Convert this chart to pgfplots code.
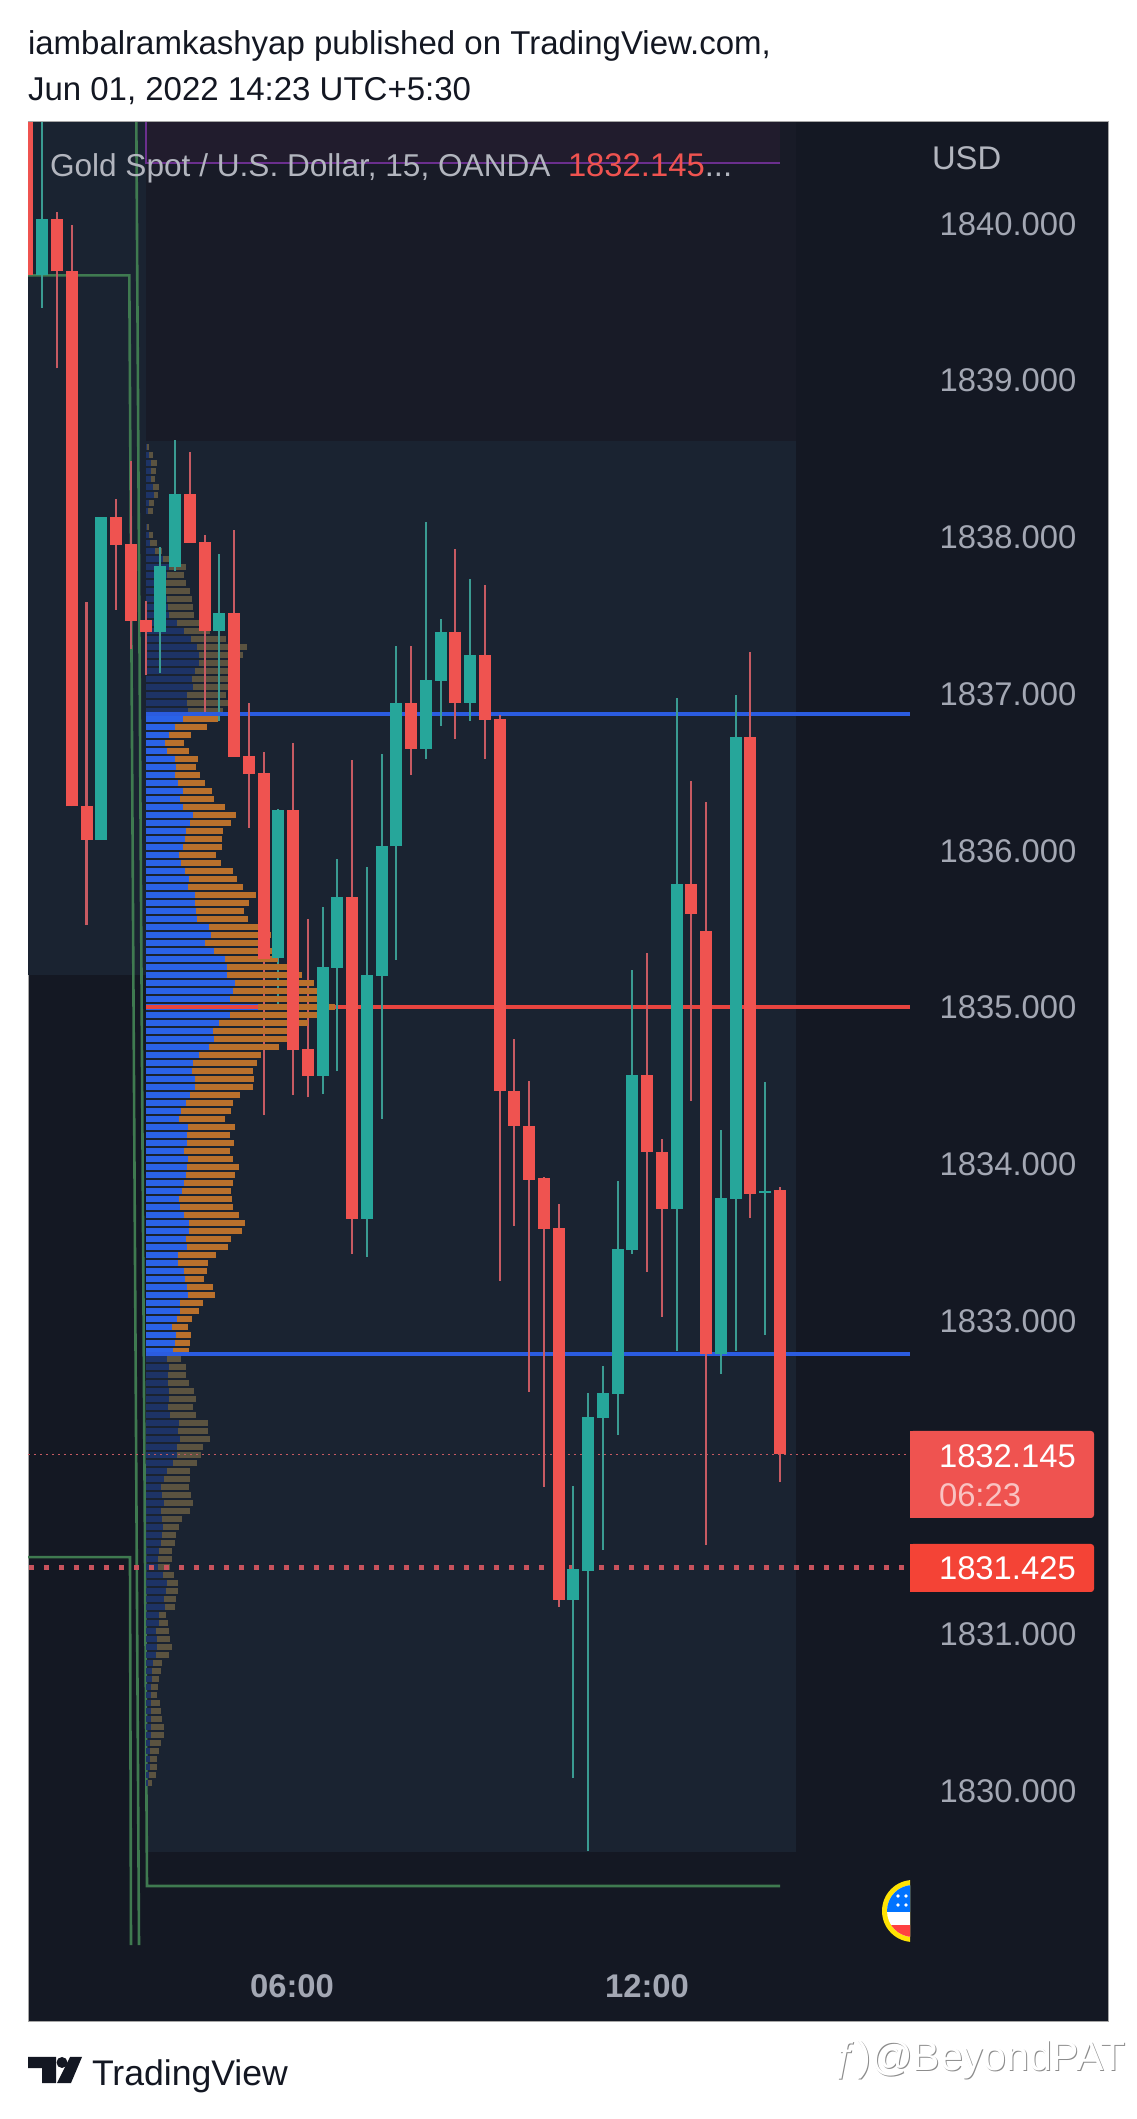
\documentclass[border=0pt]{standalone}
\usepackage{pgfplots}
\usepackage{pgfplotstable}
\usepackage{fontspec}
\pgfplotsset{compat=1.18}
\setmainfont{Liberation Sans}

\definecolor{pane}{HTML}{141823}
\definecolor{zone}{HTML}{1A2331}
\definecolor{upperzone}{HTML}{181B27}
\definecolor{purplezone}{HTML}{211C2D}
\definecolor{purpleline}{HTML}{6A2F8E}
\definecolor{greenline}{HTML}{3F7A50}
\definecolor{bull}{HTML}{26A69A}
\definecolor{bear}{HTML}{EF5350}
\definecolor{bullwick}{HTML}{3A9B92}
\definecolor{bearwick}{HTML}{C75A62}
\definecolor{vpblue}{HTML}{2A62E8}
\definecolor{vporange}{HTML}{B9702C}
\definecolor{vpdimblue}{HTML}{1D3366}
\definecolor{vpdimorange}{HTML}{5B5340}
\definecolor{levelblue}{HTML}{2B5CE0}
\definecolor{levelred}{HTML}{E8443F}
\definecolor{dotred}{HTML}{C8525C}
\definecolor{scaletext}{HTML}{A3A7B3}
\definecolor{legendtext}{HTML}{B2B5BE}
\definecolor{ink}{HTML}{131722}
\definecolor{lowtag}{HTML}{F44336}

% x is the pixel column of the bar, prices as on the right scale
\pgfplotstableread{
x high top bottom low
42 1841 1840.027 1839.668 1839.460
101 1838.126 1838.126 1836.065 1836.065
160 1837.935 1837.814 1837.394 1837.131
175 1838.620 1838.274 1837.807 1837.782
219 1837.890 1837.514 1837.399 1836.824
278 1836.260 1836.257 1835.314 1834.980
323 1835.639 1835.255 1834.559 1834.444
337 1835.946 1835.701 1835.248 1834.588
367 1835.895 1835.206 1833.648 1833.405
382 1836.614 1836.027 1835.200 1834.286
396 1837.305 1836.939 1836.024 1835.299
426 1838.094 1837.086 1836.648 1836.579
441 1837.473 1837.392 1837.080 1836.794
470 1837.732 1837.246 1836.941 1836.826
573 1831.943 1831.414 1831.216 1830.080
588 1832.539 1832.381 1831.403 1829.613
603 1832.708 1832.536 1832.377 1831.534
618 1833.886 1833.455 1832.531 1832.271
632 1835.235 1834.565 1833.449 1833.423
677 1836.974 1835.786 1833.710 1832.802
721 1834.216 1833.780 1832.785 1832.659
736 1836.990 1836.722 1833.777 1832.804
765 1834.521 1833.828 1833.812 1832.906
}\bullcandles
\pgfplotstableread{
x high top bottom low
27 1841 1841 1839.668 1839.668
57 1840.073 1840.027 1839.694 1839.074
72 1839.990 1839.694 1836.280 1836.280
86.5 1837.584 1836.282 1836.065 1835.523
116 1838.241 1838.126 1837.948 1837.533
131 1838.484 1837.954 1837.464 1837.284
146 1837.590 1837.472 1837.394 1837.118
190 1838.543 1838.274 1837.962 1837.962
205 1838.012 1837.967 1837.399 1836.844
234 1838.040 1837.514 1836.596 1836.596
249 1836.939 1836.602 1836.485 1836.142
264 1836.627 1836.493 1835.306 1834.310
293 1836.687 1836.257 1834.722 1834.438
308 1835.562 1834.731 1834.559 1834.422
352 1836.576 1835.701 1833.648 1833.426
411 1837.304 1836.939 1836.648 1836.481
455 1837.922 1837.392 1836.941 1836.711
485 1837.692 1837.246 1836.833 1836.584
500 1836.863 1836.838 1834.466 1833.251
514 1834.796 1834.466 1834.242 1833.604
529 1834.527 1834.242 1833.897 1832.542
544 1833.916 1833.905 1833.583 1831.937
559 1833.743 1833.590 1831.216 1831.172
647 1835.341 1834.565 1834.074 1833.311
662 1834.157 1834.077 1833.710 1833.021
691 1836.442 1835.786 1835.593 1834.399
706 1836.308 1835.482 1832.785 1831.566
750 1837.265 1836.722 1833.806 1833.653
780 1833.853 1833.832 1832.145 1831.968
}\bearcandles

% volume profile: price of the row, end of the up part, end of the row (in pixel columns)
\pgfplotstableread{
p blue total
1838.574 147 149
1838.522 149 153
1838.471 151 157
1838.420 151 156
1838.369 151 155
1838.318 153 159
1838.267 154 158
1838.216 149 154
1838.165 148 153
1838.063 147 149
1838.012 149 153
1837.961 150 157
1837.910 155 162
1837.859 163 170
1837.808 169 186
1837.757 167 184
1837.706 166 186
1837.655 166 190
1837.604 167 192
1837.553 168 193
1837.501 169 194
1837.450 177 199
1837.399 184 210
1837.348 191 226
1837.297 197 247
1837.246 199 243
1837.195 199 236
1837.144 195 232
1837.093 192 228
1837.042 193 228
1836.991 187 226
1836.940 187 228
1836.889 188 223
1832.754 166.7 181
1832.703 168.7 186
1832.652 168 186
1832.601 168 189
1832.550 169.3 194
1832.499 169 196
1832.448 168 193
1832.396 170 196
1832.345 179 208
1832.294 177.7 208
1832.243 180 210
1832.192 176.7 203
1832.141 176.7 201
1832.090 172.7 197
1832.039 166.7 190
1831.988 164 190
1831.937 161 189
1831.886 162 191
1831.835 164 193
1831.784 161 190
1831.733 161.7 182
1831.682 162.7 179
1831.631 161.7 176
1831.580 160.7 175
1831.529 158.7 172
1831.478 157.7 172
1831.427 157.7 170
1831.375 162.7 174
1831.324 167 178
1831.273 166 178
1831.222 164 176
1831.171 164.7 175
1831.120 158.7 166
1831.069 158.7 168
1831.018 156 169
1830.967 156.7 170
1830.916 156.7 172
1830.865 156 169
1830.814 153.3 162
1830.763 152 161
1830.712 151.7 159
1830.661 150.7 158
1830.610 150.7 157
1830.559 150.7 160
1830.508 150.7 161
1830.457 151 162
1830.406 151 164
1830.354 150.7 164
1830.303 150 161
1830.252 150 159
1830.201 150 157
1830.150 150 157
1830.099 149.3 156
1830.048 148 152
}\dimrows
\pgfplotstableread{
p blue total
1836.838 182.7 218.3
1836.787 175 207
1836.736 169.3 191
1836.685 165 184
1836.634 167 189
1836.583 175 198
1836.532 176 196
1836.480 175 200
1836.429 178 205
1836.378 182.7 212
1836.327 180 214
1836.276 183 225
1836.225 193 236
1836.174 190 231
1836.123 186 223
1836.072 185 222
1836.021 183 222
1835.970 179 216
1835.919 180.7 221
1835.868 185 233
1835.817 188.7 237
1835.766 188 243
1835.715 195 256
1835.664 195 249
1835.613 196 244
1835.562 197.3 248
1835.511 209.3 260
1835.459 211 271
1835.408 205 260
1835.357 214 272
1835.306 225 278.3
1835.255 227 287
1835.204 227 302
1835.153 235 314
1835.102 233.3 317.3
1835.051 230 317.3
1835.000 258 335
1834.949 230 317.3
1834.898 219 307.7
1834.847 213 290
1834.796 214 290
1834.745 209 279
1834.694 199 261
1834.643 192.7 257
1834.592 192 253
1834.541 195 254
1834.490 195 253
1834.438 190 240
1834.387 186 233
1834.336 181 231
1834.285 179 225
1834.234 188 235
1834.183 187.3 230
1834.132 187.3 234
1834.081 184 230
1834.030 188 233
1833.979 187.3 239
1833.928 186 235
1833.877 184 233
1833.826 182 231
1833.775 179 232
1833.724 180 233
1833.673 184 239
1833.622 189 245
1833.571 188.7 242
1833.520 186 231
1833.469 187 228
1833.417 178 216
1833.366 178 208
1833.315 184 207
1833.264 185 204
1833.213 187 213
1833.162 188 215
1833.111 180 203
1833.060 180 199
1833.009 176.7 192
1832.958 172.3 188
1832.907 175.7 191
1832.856 175 190
1832.805 173.3 189
}\brightrows

% #1 table, #2 colour
\newcommand{\wicks}[2]{
  \addplot[draw=none,no markers,forget plot,error bars/.cd,y dir=plus,y explicit,error mark=none,
    error bar style={line width=1.2pt,draw=#2}]
    table[x=x,y=low,y error plus expr=\thisrow{high}-\thisrow{low}] {#1};
}
\newcommand{\bodies}[2]{
  \addplot[draw=none,no markers,forget plot,error bars/.cd,y dir=plus,y explicit,error mark=none,
    error bar style={line width=6pt,draw=#2}]
    table[x=x,y=bottom,y error plus expr=\thisrow{top}-\thisrow{bottom}] {#1};
}
% #1 table, #2 up colour, #3 down colour
\newcommand{\profile}[3]{
  \addplot[draw=none,no markers,forget plot,error bars/.cd,x dir=minus,x explicit,error mark=none,
    error bar style={line width=2.9pt,draw=#2}]
    table[x=blue,y=p,x error minus expr=\thisrow{blue}-146] {#1};
  \addplot[draw=none,no markers,forget plot,error bars/.cd,x dir=minus,x explicit,error mark=none,
    error bar style={line width=2.9pt,draw=#3}]
    table[x=total,y=p,x error minus expr=\thisrow{total}-\thisrow{blue}] {#1};
}

\begin{document}
\begin{tikzpicture}
% page is 1136x2119 px at 0.5pt per px
\begin{scope}[x=0.5pt,y=-0.5pt,shift={(-14pt,1011pt)}]
  \fill[white] (0,0) rectangle (1136,2119);
  \useasboundingbox (0,0) rectangle (1136,2119);
\end{scope}

\begin{axis}[
    scale only axis,
    width=540pt,
    height=950pt,
    xmin=28, xmax=1108,
    ymin=1828.522, ymax=1840.647,
    axis background/.style={fill=pane},
    axis line style={draw=black!35!white,line width=0.5pt},
    major tick length=0pt,
    xtick={292,647},
    xticklabels={06:00,12:00},
    xticklabel style={anchor=center,yshift=18pt,text=scaletext,font=\fontsize{16.4}{18}\selectfont\bfseries},
    ytick={1830,1831,1833,1834,1835,1836,1837,1838,1839,1840},
    yticklabel pos=right,
    yticklabel style={anchor=center,xshift=-50pt,yshift=-0.3pt,text=scaletext,font=\fontsize{16.4}{18}\selectfont,
      /pgf/number format/fixed,/pgf/number format/fixed zerofill,/pgf/number format/precision=3,
      /pgf/number format/1000 sep={},/pgf/number format/assume math mode=true},
]
% shaded zones
\addplot[fill=zone,draw=none,forget plot] coordinates {(28,1841)(146,1841)(146,1835.203)(28,1835.203)};
\addplot[fill=upperzone,draw=none,forget plot] coordinates {(146,1841)(796,1841)(796,1838.611)(146,1838.611)};
\addplot[fill=purplezone,draw=none,forget plot] coordinates {(146,1841)(780,1841)(780,1840.385)(146,1840.385)};
\addplot[fill=zone,draw=none,forget plot] coordinates {(146,1838.611)(796,1838.611)(796,1829.610)(146,1829.610)};

% session boxes
\addplot[greenline,line width=1.3pt,forget plot] coordinates {(20,1839.668)(129.3,1839.668)(139,1829.013)};
\addplot[greenline,line width=1.3pt,forget plot] coordinates {(20,1831.489)(130,1831.489)(131,1829.013)};
\addplot[greenline,line width=1.3pt,forget plot] coordinates {(136,1841)(147,1829.390)(780,1829.390)};
\addplot[purpleline,line width=1pt,forget plot] coordinates {(146,1841)(146,1840.385)(780,1840.385)};

\profile{\dimrows}{vpdimblue}{vpdimorange}

% levels
\addplot[levelblue,line width=2.25pt,forget plot] coordinates {(146,1836.87)(910,1836.87)};
\addplot[levelblue,line width=2.25pt,forget plot] coordinates {(146,1832.785)(910,1832.785)};
\addplot[levelred,line width=2.25pt,forget plot] coordinates {(146,1835)(910,1835)};
\addplot[bearwick,line width=0.5pt,dash pattern=on 0.75pt off 2.25pt,forget plot] coordinates {(28,1832.145)(910,1832.145)};
\addplot[dotred,line width=2.5pt,dash pattern=on 2.5pt off 5pt,forget plot] coordinates {(28.8,1831.425)(910,1831.425)};

\wicks{\bullcandles}{bullwick}
\wicks{\bearcandles}{bearwick}

\profile{\brightrows}{vpblue}{vporange}

\addplot[levelblue,line width=2.25pt,forget plot] coordinates {(146,1836.87)(235,1836.87)};
\addplot[levelblue,line width=2.25pt,forget plot] coordinates {(146,1832.785)(190,1832.785)};
\addplot[levelred,line width=2.25pt,forget plot] coordinates {(146,1835)(258,1835)};

\bodies{\bullcandles}{bull}
\bodies{\bearcandles}{bear}
\end{axis}

\begin{scope}[x=0.5pt,y=-0.5pt,shift={(-14pt,1011pt)},
    every node/.style={inner sep=0pt,outer sep=0pt,font=\fontsize{16.4}{18}\selectfont}]
  % frame redrawn over the zones
  \draw[black!35!white,line width=0.5pt] (28,122) -- (1108,122);
  % header and footer
  \node[anchor=base west,text=ink,font=\fontsize{16.5}{18}\selectfont] at (28,55) {iambalramkashyap published on TradingView.com,};
  \node[anchor=base west,text=ink,font=\fontsize{16.5}{18}\selectfont] at (28,101) {Jun 01, 2022 14:23 UTC+5:30};
  \node[anchor=base west,text=legendtext,font=\fontsize{15.8}{18}\selectfont] at (50,177) {Gold Spot / U.S. Dollar, 15, OANDA};
  \node[anchor=base west,text=bear] at (568,177) {1832.145\textcolor{legendtext}{...}};
  \node[anchor=base west,text=legendtext] at (932,170) {USD};

  % last price and low tags
  \fill[bear,rounded corners=1.5pt] (910,1431) -- (1094,1431) -- (1094,1518) -- (910,1518) -- cycle;
  \fill[bear] (910,1431) rectangle (920,1518);
  \fill[lowtag,rounded corners=1.5pt] (910,1544) -- (1094,1544) -- (1094,1592) -- (910,1592) -- cycle;
  \fill[lowtag] (910,1544) rectangle (920,1592);
  \node[anchor=base west,text=white] at (939,1468) {1832.145};
  \node[anchor=base west,text=white!65!bear] at (939,1507) {06:23};
  \node[anchor=base west,text=white] at (939,1580) {1831.425};

  % currency badge, cut by the scale
  \begin{scope}
    \clip (860,1870) rectangle (910,1950);
    \fill[yellow!85!orange] (913,1911) circle[radius=31];
    \fill[white] (913,1911) circle[radius=26];
    \begin{scope}
      \clip (913,1911) circle[radius=26];
      \fill[blue!55!cyan] (880,1880) rectangle (915,1912);
      \fill[red!75!white] (880,1925) rectangle (915,1940);
    \end{scope}
    \foreach \sx/\sy in {898/1896,906/1896,898/1905,906/1905}
      \fill[white] (\sx,\sy) circle[radius=1.8];
  \end{scope}

  % TradingView mark
  \fill[ink] (28,2057) -- (56,2057) -- (56,2083) -- (42,2083) -- (42,2068) -- (28,2068) -- cycle;
  \fill[ink] (62,2062.5) circle[radius=5.5];
  \fill[ink] (70,2057) -- (82,2057) -- (71,2083) -- (57,2083) -- cycle;
  \node[anchor=base west,text=ink,font=\fontsize{17.8}{19}\selectfont] at (92,2085) {TradingView};

  % watermark
  \node[anchor=base east,text=black!45,font=\fontsize{20.5}{22}\selectfont] at (1126.5,2071) {ƒ)@BeyondPAT};
  \node[anchor=base east,text=white,font=\fontsize{20.5}{22}\selectfont] at (1125.5,2070) {ƒ)@BeyondPAT};
\end{scope}
\end{tikzpicture}
\end{document}
